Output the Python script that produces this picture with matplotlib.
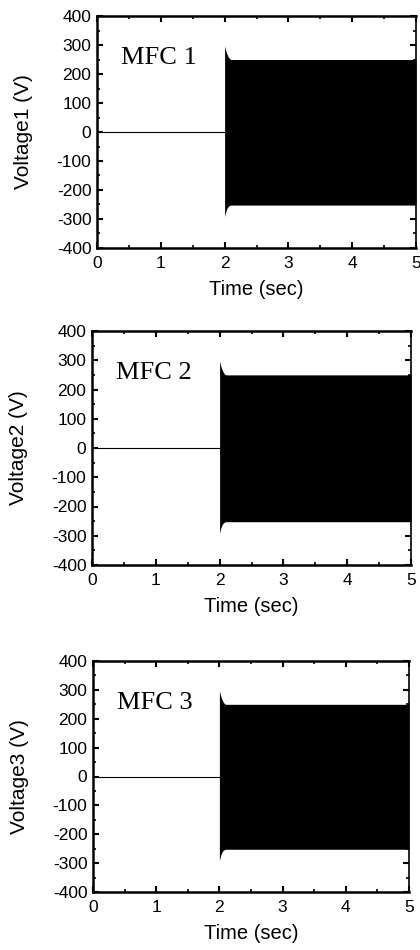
import numpy as np
import matplotlib.pyplot as plt
from matplotlib.ticker import MultipleLocator

plt.rcParams['font.family'] = ['Liberation Sans', 'DejaVu Sans']
plt.rcParams['axes.unicode_minus'] = False

# envelope of the MFC voltage burst
env_t = [2.0, 2.01, 2.02, 2.04, 2.06, 2.08, 2.1, 5.0]
env_top = [297, 288, 279, 267, 258, 252, 250, 250]
env_bot = [-292, -282, -273, -262, -256, -253, -252, -252]
quiet_t = [0.0, 2.0]
quiet_v = [0, 0]

panels = ['MFC 1', 'MFC 2', 'MFC 3']
ylabels = ['Voltage1 (V)', 'Voltage2 (V)', 'Voltage3 (V)']
# axes boxes in pixels: left, top, right, bottom
boxes = [(97, 16, 416, 248), (92, 331, 411, 565), (93, 661, 409, 892)]

W, H = 420, 950
fig = plt.figure(figsize=(W / 100, H / 100), dpi=100)

for name, ylab, (l, t, r, b) in zip(panels, ylabels, boxes):
    ax = fig.add_axes([l / W, 1 - b / H, (r - l) / W, (b - t) / H])
    ax.plot(quiet_t, quiet_v, color='black', lw=0.8)
    ax.fill_between(env_t, env_bot, env_top, color='black', lw=0)
    ax.set_xlim(0, 5)
    ax.set_ylim(-400, 400)
    ax.xaxis.set_major_locator(MultipleLocator(1))
    ax.xaxis.set_minor_locator(MultipleLocator(0.5))
    ax.yaxis.set_major_locator(MultipleLocator(100))
    ax.yaxis.set_minor_locator(MultipleLocator(50))
    ax.tick_params(which='both', direction='in', top=True, right=True,
                   labelsize=12.5, pad=4)
    ax.tick_params(axis='x', which='major', pad=6)
    ax.tick_params(which='major', length=4, width=1.5)
    ax.tick_params(which='minor', length=2.5, width=1.2)
    for s in ax.spines.values():
        s.set_linewidth(1.8)
    ax.spines['right'].set_linewidth(1.2)
    ax.set_xlabel('Time (sec)', fontsize=14.5, labelpad=6)
    ax.set_ylabel(ylab, fontsize=15, labelpad=17)
    ax.text(0.38, 256, name, family=['Liberation Serif', 'DejaVu Serif'],
            fontsize=19, va='center', ha='left')

fig.savefig('out.png', dpi=100)
